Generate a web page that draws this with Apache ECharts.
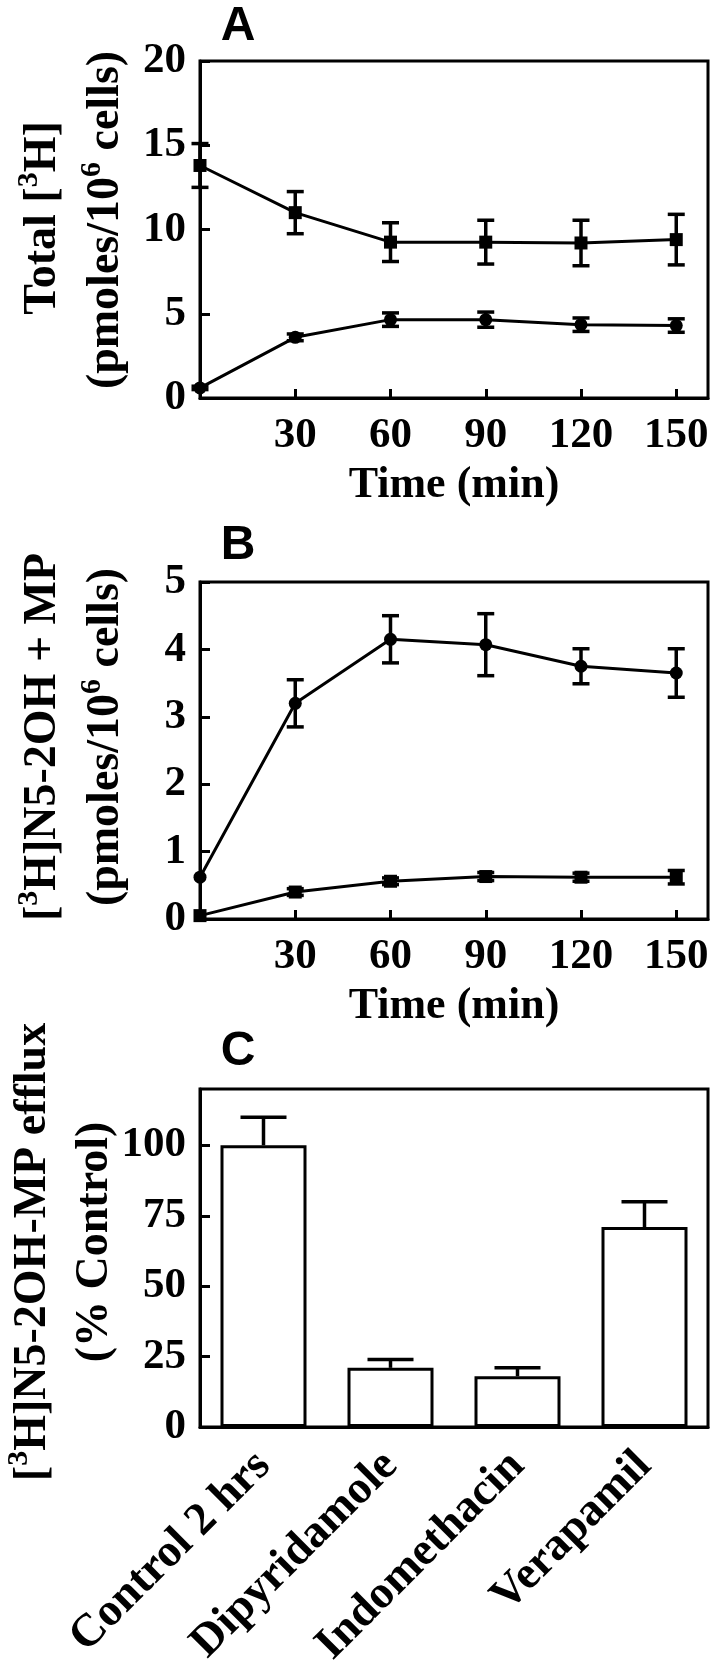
<!DOCTYPE html>
<html><head><meta charset="utf-8">
<script src="https://cdn.jsdelivr.net/npm/echarts@6/dist/echarts.min.js"></script>
<style>html,body{margin:0;padding:0;background:#fff}#c{width:716px;height:1673px}</style>
</head><body><div id="c"></div>
<script>
// ---- data ----
const timePoints = [0, 30, 60, 90, 120, 150];
const aSquare = [13.8, 11.0, 9.25, 9.25, 9.2, 9.4];
const aSquareErr = [1.3, 1.25, 1.15, 1.3, 1.35, 1.5];
const aCircle = [0.6, 3.6, 4.65, 4.65, 4.35, 4.3];
const aCircleErr = [0.1, 0.2, 0.4, 0.45, 0.4, 0.4];
const bCircle = [0.62, 3.2, 4.15, 4.07, 3.75, 3.65];
const bCircleErr = [0, 0.35, 0.35, 0.46, 0.26, 0.36];
const bSquare = [0.05, 0.4, 0.56, 0.63, 0.62, 0.62];
const bSquareErr = [0, 0.05, 0.05, 0.06, 0.06, 0.1];
const cCategories = ['Control 2 hrs', 'Dipyridamole', 'Indomethacin', 'Verapamil'];
const cValues = [100, 21, 18, 71];
const cErr = [10, 3, 3, 9];

// ---- styles ----
const SERIF = '"Liberation Serif", "Times New Roman", serif';
const SANS = '"Liberation Sans", Arial, sans-serif';
const BLACK = '#000';

function errSeries(xi, yi, xs, ys, es, capW, both) {
  return {
    type: 'custom', xAxisIndex: xi, yAxisIndex: yi, clip: false, z: 4,
    silent: true,
    data: xs.map((x, i) => [x, ys[i], es[i]]),
    renderItem(params, api) {
      const x = api.value(0), y = api.value(1), e = api.value(2);
      if (!e) return null;
      const top = api.coord([x, y + e]);
      const bot = api.coord([x, both ? y - e : y]);
      const h = capW / 2;
      const st = { stroke: BLACK, lineWidth: 3.5 };
      const ch = [
        { type: 'line', shape: { x1: top[0], y1: top[1], x2: bot[0], y2: bot[1] }, style: st },
        { type: 'line', shape: { x1: top[0] - h, y1: top[1], x2: top[0] + h, y2: top[1] }, style: st }
      ];
      if (both) ch.push({ type: 'line', shape: { x1: bot[0] - h, y1: bot[1], x2: bot[0] + h, y2: bot[1] }, style: st });
      return { type: 'group', children: ch };
    }
  };
}
function lineSeries(xi, yi, ys, symbol) {
  return {
    type: 'line', xAxisIndex: xi, yAxisIndex: yi, clip: false, z: 5,
    data: timePoints.map((t, i) => [t, ys[i]]),
    symbol: symbol, symbolSize: 13,
    lineStyle: { color: BLACK, width: 3 }, itemStyle: { color: BLACK },
    silent: true
  };
}
const tickLabel = { color: BLACK, fontFamily: SERIF, fontWeight: 'bold', fontSize: 43 };
function timeAxis(gi) {
  return {
    gridIndex: gi, type: 'value', min: 0, max: 160, interval: 30,
    axisLine: { show: true, onZero: false, lineStyle: { color: BLACK, width: 3 } },
    axisTick: { show: true, inside: true, length: 9, lineStyle: { color: BLACK, width: 3 } },
    axisLabel: Object.assign({ showMinLabel: false, showMaxLabel: false, margin: 16 }, tickLabel),
    splitLine: { show: false },
    name: 'Time (min)', nameLocation: 'middle', nameGap: 66,
    nameTextStyle: { color: BLACK, fontFamily: SERIF, fontWeight: 'bold', fontSize: 44 }
  };
}
function valAxis(gi, max, interval, showMax) {
  return {
    gridIndex: gi, type: 'value', min: 0, max: max, interval: interval,
    axisLine: { show: true, onZero: false, lineStyle: { color: BLACK, width: 3 } },
    axisTick: { show: true, inside: true, length: 10, lineStyle: { color: BLACK, width: 3 } },
    axisLabel: Object.assign({ margin: 14, showMaxLabel: showMax }, tickLabel),
    splitLine: { show: false }
  };
}
function titleText(x, y, text) {
  return {
    type: 'text', x: x, y: y, rotation: Math.PI / 2,
    style: {
      text: text, align: 'center', verticalAlign: 'middle', fill: BLACK,
      font: 'bold 46px ' + SERIF,
      rich: {
        b: { fontFamily: SERIF, fontWeight: 'bold', fontSize: 46, lineHeight: 52, verticalAlign: 'bottom', fill: BLACK },
        s: { fontFamily: SERIF, fontWeight: 'bold', fontSize: 30, lineHeight: 52, verticalAlign: 'top', fill: BLACK }
      }
    }
  };
}
function letter(x, y, t) {
  return { type: 'text', x: x, y: y, style: { text: t, align: 'center', verticalAlign: 'middle', fill: BLACK, font: 'bold 48px ' + SANS } };
}

const gridBase = { left: 200, right: 8, show: true, borderColor: BLACK, borderWidth: 3, backgroundColor: 'transparent' };
const option = {
  backgroundColor: '#fff',
  animation: false,
  grid: [
    Object.assign({ top: 61, height: 337 }, gridBase),
    Object.assign({ top: 582, height: 337 }, gridBase),
    Object.assign({ top: 1089, height: 338 }, gridBase)
  ],
  xAxis: [
    timeAxis(0), timeAxis(1),
    {
      gridIndex: 2, type: 'category', data: cCategories,
      axisLine: { show: true, lineStyle: { color: BLACK, width: 3 } },
      axisTick: { show: false },
      axisLabel: Object.assign({}, tickLabel, { rotate: 45, interval: 0, fontSize: 46, margin: 32 })
    }
  ],
  yAxis: [valAxis(0, 20, 5, true), valAxis(1, 5, 1, true), valAxis(2, 120, 25, false)],
  series: [
    errSeries(0, 0, timePoints, aSquare, aSquareErr, 17, true),
    errSeries(0, 0, timePoints, aCircle, aCircleErr, 17, true),
    lineSeries(0, 0, aSquare, 'rect'),
    lineSeries(0, 0, aCircle, 'circle'),
    errSeries(1, 1, timePoints, bCircle, bCircleErr, 17, true),
    errSeries(1, 1, timePoints, bSquare, bSquareErr, 17, true),
    lineSeries(1, 1, bCircle, 'circle'),
    lineSeries(1, 1, bSquare, 'rect'),
    {
      type: 'bar', xAxisIndex: 2, yAxisIndex: 2, data: cValues, barWidth: 86, z: 3,
      itemStyle: { color: '#fff', borderColor: BLACK, borderWidth: 3 }, silent: true
    },
    errSeries(2, 2, cCategories.map((c, i) => i), cValues, cErr, 46, false)
  ],
  graphic: [
    letter(238, 27, 'A'), letter(238, 546, 'B'), letter(238, 1052, 'C'),
    titleText(40, 218, '{b|Total [}{s|3}{b|H]}'),
    titleText(103, 220, '{b|(pmoles/10}{s|6}{b| cells)}'),
    titleText(40, 737, '{b|[}{s|3}{b|H]N5-2OH + MP}'),
    titleText(103, 737, '{b|(pmoles/10}{s|6}{b| cells)}'),
    titleText(30, 1252, '{b|[}{s|3}{b|H]N5-2OH-MP efflux}'),
    titleText(92, 1242, '{b|(% Control)}')
  ]
};
const chart = echarts.init(document.getElementById('c'), null, { renderer: 'canvas', width: 716, height: 1673 });
chart.setOption(option);
</script>
</body></html>
